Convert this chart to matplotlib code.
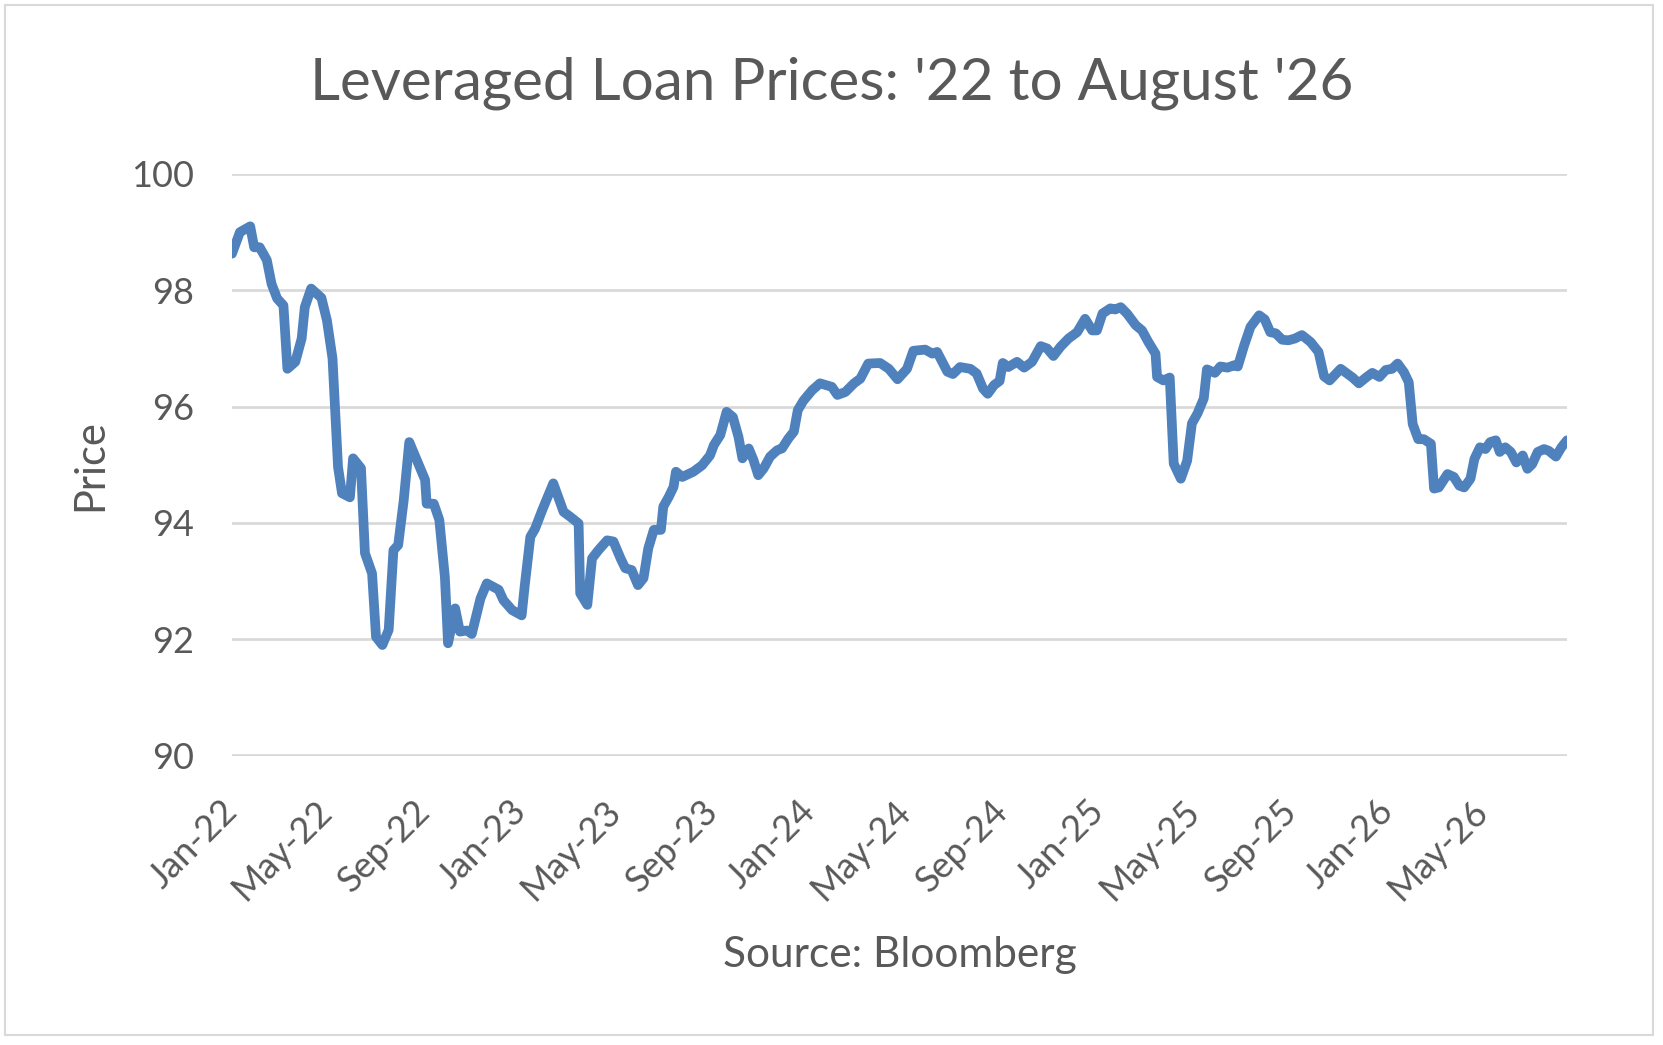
import matplotlib
matplotlib.use("Agg")
import matplotlib.pyplot as plt
import matplotlib.dates as mdates
from matplotlib.patches import Rectangle
import pandas as pd

# Data: day offset from 2022-01-01 and loan price
start_date = "2022-01-01"
day_offsets = [
    0, 10, 23, 28, 35, 44, 50, 57, 65, 70, 80, 88, 92, 100, 113, 120, 127, 134, 139, 149,
    153, 163, 168, 177, 182, 190, 198, 204, 210, 217, 224, 244, 246, 255, 262, 269, 273, 282, 288, 297,
    303, 314, 322, 337, 343, 354, 366, 370, 377, 383, 392, 406, 419, 427, 438, 440, 449, 455, 463, 474,
    482, 491, 497, 505, 513, 520, 526, 533, 542, 545, 552, 558, 561, 569, 583, 594, 604, 609, 617, 625,
    633, 640, 645, 653, 659, 665, 672, 680, 689, 695, 703, 710, 715, 722, 733, 743, 758, 765, 775, 786,
    794, 804, 819, 830, 841, 853, 861, 876, 885, 891, 904, 911, 920, 933, 941, 949, 955, 963, 970, 974,
    981, 992, 1001, 1011, 1022, 1030, 1038, 1047, 1057, 1068, 1078, 1087, 1093, 1100, 1110, 1116, 1123, 1131, 1142, 1150,
    1158, 1167, 1169, 1177, 1185, 1190, 1199, 1207, 1213, 1220, 1228, 1232, 1242, 1249, 1258, 1266, 1271, 1279, 1287, 1298,
    1305, 1312, 1319, 1327, 1335, 1343, 1352, 1363, 1373, 1380, 1387, 1401, 1409, 1416, 1424, 1433, 1441, 1450, 1458, 1466,
    1473, 1481, 1487, 1492, 1499, 1506, 1515, 1519, 1525, 1536, 1544, 1551, 1557, 1565, 1570, 1577, 1584, 1590, 1597, 1602,
    1609, 1616, 1623, 1631, 1637, 1643, 1650, 1658, 1664, 1673, 1680, 1687,
]
prices = [
    98.63, 99.00, 99.10, 98.74, 98.74, 98.52, 98.11, 97.86, 97.74, 96.65, 96.77, 97.17, 97.71, 98.03, 97.87, 97.48, 96.83, 94.96, 94.51, 94.44,
    95.11, 94.94, 93.48, 93.13, 92.04, 91.90, 92.16, 93.53, 93.62, 94.39, 95.39, 94.74, 94.33, 94.33, 94.05, 93.07, 91.93, 92.53, 92.13, 92.15,
    92.09, 92.70, 92.96, 92.85, 92.67, 92.50, 92.41, 92.93, 93.76, 93.90, 94.22, 94.68, 94.19, 94.11, 93.99, 92.79, 92.59, 93.39, 93.53, 93.70,
    93.68, 93.39, 93.22, 93.19, 92.93, 93.05, 93.56, 93.88, 93.88, 94.28, 94.45, 94.62, 94.88, 94.79, 94.88, 94.99, 95.16, 95.34, 95.51, 95.91,
    95.82, 95.48, 95.11, 95.28, 95.08, 94.82, 94.94, 95.14, 95.25, 95.28, 95.45, 95.57, 95.94, 96.10, 96.28, 96.40, 96.34, 96.20, 96.25, 96.40,
    96.48, 96.74, 96.75, 96.65, 96.47, 96.65, 96.96, 96.98, 96.91, 96.94, 96.60, 96.56, 96.68, 96.65, 96.57, 96.31, 96.22, 96.37, 96.44, 96.75,
    96.68, 96.77, 96.67, 96.77, 97.04, 97.00, 96.87, 97.03, 97.17, 97.28, 97.51, 97.31, 97.31, 97.60, 97.69, 97.67, 97.71, 97.60, 97.40, 97.31,
    97.11, 96.91, 96.51, 96.45, 96.50, 95.02, 94.76, 95.07, 95.71, 95.88, 96.14, 96.64, 96.58, 96.69, 96.67, 96.71, 96.69, 97.05, 97.37, 97.57,
    97.50, 97.28, 97.26, 97.15, 97.14, 97.17, 97.23, 97.11, 96.94, 96.52, 96.45, 96.65, 96.57, 96.50, 96.40, 96.50, 96.58, 96.51, 96.63, 96.65,
    96.74, 96.59, 96.42, 95.70, 95.44, 95.44, 95.36, 94.59, 94.61, 94.84, 94.79, 94.64, 94.61, 94.76, 95.10, 95.30, 95.27, 95.39, 95.42, 95.22,
    95.30, 95.22, 95.04, 95.16, 94.93, 95.01, 95.22, 95.27, 95.24, 95.14, 95.30, 95.42,
]
y_ticks = [90, 92, 94, 96, 98, 100]
x_tick_dates = ["2022-01-01", "2022-05-01", "2022-09-01", "2023-01-01", "2023-05-01", "2023-09-01",
                "2024-01-01", "2024-05-01", "2024-09-01", "2025-01-01", "2025-05-01", "2025-09-01",
                "2026-01-01", "2026-05-01"]
title_text = "Leveraged Loan Prices: '22 to August '26"
y_label = "Price"
x_label = "Source: Bloomberg"

dates = pd.Timestamp(start_date) + pd.to_timedelta(day_offsets, unit="D")

TEXT = "#595959"
LINE = "#4F81BD"
GRID = "#D9D9D9"
FONT = ["Lato", "DejaVu Sans"]
plt.rcParams["font.family"] = FONT

W, H = 1663, 1045
fig = plt.figure(figsize=(W / 100, H / 100), dpi=100)
fig.patch.set_facecolor("white")

# chart area border
fig.add_artist(Rectangle((5 / W, 1 - 1035 / H), (1653 - 5) / W, (1035 - 5) / H,
                         transform=fig.transFigure, fill=False, edgecolor=GRID, linewidth=1.5))

ax_left, ax_right, ax_top, ax_bottom = 232, 1567, 174, 755.5
ax = fig.add_axes([ax_left / W, 1 - ax_bottom / H, (ax_right - ax_left) / W, (ax_bottom - ax_top) / H])
ax.plot(dates, prices, color=LINE, linewidth=7.0, solid_joinstyle="round", solid_capstyle="round",
        zorder=3)

ax.set_ylim(90, 100)
ax.set_xlim(dates[0], dates[-1])
ax.set_yticks(y_ticks)
ax.set_xticks(pd.to_datetime(x_tick_dates))
ax.xaxis.set_major_formatter(mdates.DateFormatter("%b-%y"))
ax.grid(axis="y", color=GRID, linewidth=2.0, zorder=0)
ax.grid(axis="x", visible=False)
for s in ax.spines.values():
    s.set_visible(False)
ax.tick_params(axis="both", length=0, labelcolor=TEXT, labelsize=26)
ax.tick_params(axis="y", pad=27)
ax.tick_params(axis="x", pad=36)
for lab in ax.get_xticklabels():
    lab.set_rotation(45)
    lab.set_rotation_mode("anchor")
    lab.set_ha("right")
    lab.set_va("center")

ax.set_ylabel(y_label, fontsize=30, color=TEXT)
ax.yaxis.set_label_coords((90 - ax_left) / (ax_right - ax_left), 0.5)
ax.set_xlabel(x_label, fontsize=30.5, color=TEXT)
ax.xaxis.set_label_coords(0.5, -(955 - ax_bottom) / (ax_bottom - ax_top))
ax.xaxis.label.set_va("center")
ax.yaxis.label.set_va("center")

fig.text(0.5, 1 - 83 / H, title_text, ha="center", va="center", fontsize=42, color=TEXT)

fig.savefig("out.png", dpi=100, facecolor="white")
